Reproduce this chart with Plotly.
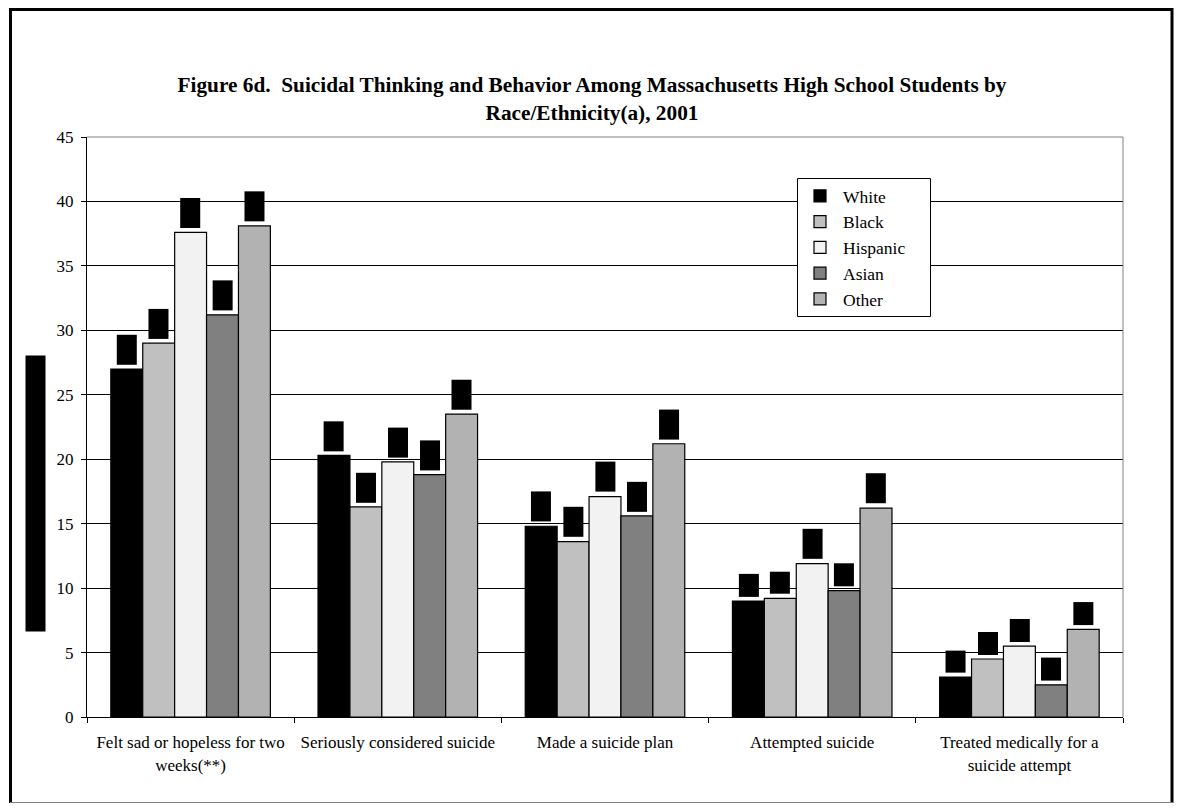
import plotly.graph_objs as go

categories = ["Felt sad or hopeless for two<br>weeks(**)", "Seriously considered suicide",
              "Made a suicide plan", "Attempted suicide",
              "Treated medically for a<br>suicide attempt"]

white = [27.0, 20.3, 14.8, 9.0, 3.1]
black = [29.0, 16.3, 13.6, 9.2, 4.5]
hispanic = [37.6, 19.8, 17.1, 11.9, 5.5]
asian = [31.2, 18.8, 15.6, 9.8, 2.5]
other = [38.1, 23.5, 21.2, 16.2, 6.8]

series_names = ["White", "Black", "Hispanic", "Asian", "Other"]
series_values = [white, black, hispanic, asian, other]
series_colors = ["#000000", "#C0C0C0", "#F2F2F2", "#808080", "#B2B2B2"]

y_ticks = [0, 5, 10, 15, 20, 25, 30, 35, 40, 45]

# page body adds an 8px offset; figure kept small enough to avoid scrollbars
O = 8
W, H = 1182 - 2 * O, 811 - 2 * O
L, T = 87 - O, 137 - O
R = W - (1123 - O)
B = H - (717 - O)
plot_w = W - L - R
plot_h = H - T - B
bargap = 0.23

def px_x(p):
    return (p - O - L) / plot_w

def px_y(p):
    return (H - B - (p - O)) / plot_h

serif = "Liberation Serif, Times New Roman, serif"

fig = go.Figure()
for name, vals, col in zip(series_names, series_values, series_colors):
    fig.add_trace(go.Bar(x=categories, y=vals, name=name,
                         marker=dict(color=col, line=dict(color="#000000", width=1.2))))

# value labels (rendered as solid black boxes in the original)
cat_w = plot_w / len(categories)
bar_w = cat_w * (1 - bargap) / len(series_names)
annotations = []
for i, vals in enumerate(series_values):
    for c, v in zip(categories, vals):
        annotations.append(dict(x=c, y=v, xref="x", yref="y", text="%.1f" % v,
                                showarrow=False, textangle=-90,
                                xshift=(i - 2) * bar_w, yshift=4,
                                xanchor="center", yanchor="bottom",
                                font=dict(family=serif, size=15.5, color="#000000"),
                                bgcolor="#000000", borderpad=1))

# y-axis title box
annotations.append(dict(x=px_x(35.5), y=px_y(493.5), xref="paper", yref="paper",
                        text="Percent", showarrow=False, textangle=-90,
                        width=275, height=19, borderpad=0,
                        xanchor="center", yanchor="middle",
                        font=dict(family=serif, size=14, color="#000000"),
                        bgcolor="#000000"))

shapes = [
    # plot area top/right border
    dict(type="line", xref="paper", yref="paper", x0=0, x1=1, y0=1, y1=1,
         line=dict(color="#808080", width=1)),
    dict(type="line", xref="paper", yref="paper", x0=1, x1=1, y0=0, y1=1,
         line=dict(color="#808080", width=1)),
    # legend box
    dict(type="rect", xref="paper", yref="paper", layer="above",
         x0=px_x(797.5), x1=px_x(930.5), y0=px_y(178.5), y1=px_y(316.5),
         fillcolor="#FFFFFF", line=dict(color="#000000", width=1)),
    # outer frame
    dict(type="line", xref="paper", yref="paper", x0=px_x(10), x1=px_x(1173),
         y0=px_y(9.5), y1=px_y(9.5), line=dict(color="#000000", width=3)),
    dict(type="line", xref="paper", yref="paper", x0=px_x(10.5), x1=px_x(10.5),
         y0=px_y(8), y1=px_y(803), line=dict(color="#000000", width=3)),
    dict(type="line", xref="paper", yref="paper", x0=px_x(1172), x1=px_x(1172),
         y0=px_y(8), y1=px_y(803), line=dict(color="#000000", width=3)),
    dict(type="line", xref="paper", yref="paper", x0=px_x(10), x1=px_x(1173),
         y0=px_y(802.5), y1=px_y(802.5), line=dict(color="#808080", width=1)),
]

fig.update_layout(
    width=W, height=H,
    margin=dict(l=L, r=R, t=T, b=B),
    paper_bgcolor="#FFFFFF", plot_bgcolor="#FFFFFF",
    barmode="group", bargap=bargap, bargroupgap=0,
    title=dict(text="<b>Figure 6d.  Suicidal Thinking and Behavior Among Massachusetts High School Students by<br>Race/Ethnicity(a), 2001</b>",
               x=(592 - O) / W, xref="container", y=1 - (92 - O) / H, yref="container",
               xanchor="center", yanchor="middle",
               font=dict(family=serif, size=21.3, color="#000000")),
    font=dict(family=serif, size=17, color="#000000"),
    xaxis=dict(showline=True, linecolor="#000000", linewidth=1,
               ticks="outside", ticklen=5, tickcolor="#000000", tickson="boundaries",
               ticklabelstandoff=10,
               tickfont=dict(family=serif, size=17, color="#000000"),
               showgrid=False),
    yaxis=dict(range=[0, 45], tickvals=y_ticks, showline=True, linecolor="#000000",
               linewidth=1, ticks="outside", ticklen=5, tickcolor="#000000",
               ticklabelstandoff=4,
               showgrid=True, gridcolor="#000000", gridwidth=1, zeroline=False,
               tickfont=dict(family=serif, size=17, color="#000000")),
    legend=dict(x=px_x(797), y=px_y(178), xanchor="left", yanchor="top",
                bgcolor="rgba(0,0,0,0)", borderwidth=0,
                itemwidth=36,
                font=dict(family=serif, size=17.5, color="#000000")),
    annotations=annotations,
    shapes=shapes,
)

fig.write_html("out.html")
